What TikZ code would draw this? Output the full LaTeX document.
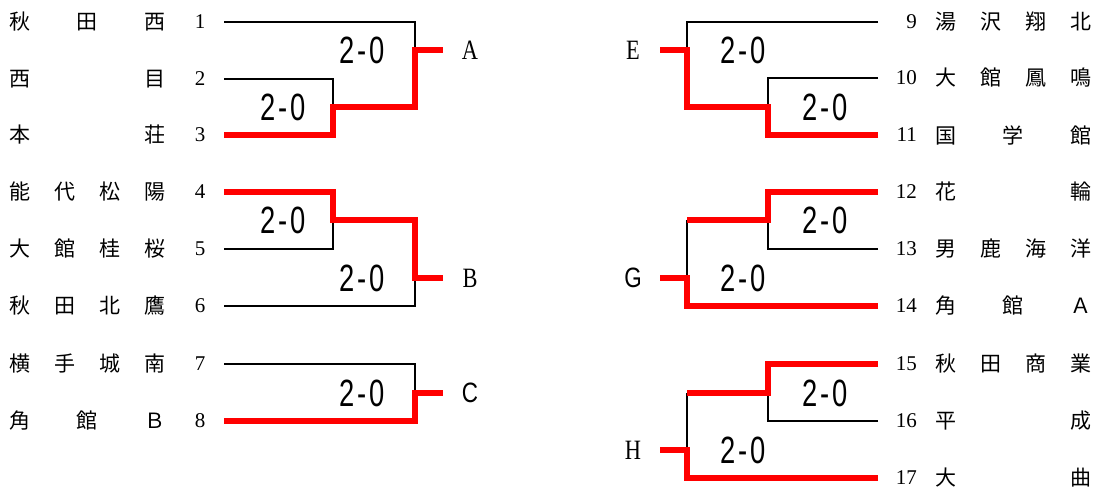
\documentclass[tikz,border=0pt]{standalone}
\usepackage{fontspec}
\setmainfont{Liberation Serif}
\newfontfamily\jpfont{Noto Sans CJK JP}
\newfontfamily\scorefont[FakeStretch=0.72,LetterSpace=8]{Liberation Sans}
\newfontfamily\blockfont[FakeStretch=0.8]{Liberation Serif}
\newfontfamily\blocksans[FakeStretch=0.8]{Liberation Sans}
\newcommand\spreadname[1]{\makebox[156pt]{#1}}
\tikzset{
	team/.style={font=\jpfont\fontsize{21}{21}\selectfont,inner sep=0pt},
	seed/.style={font=\fontsize{21}{21}\selectfont,inner sep=0pt},
	score/.style={font=\scorefont\fontsize{38}{38}\selectfont,inner sep=0pt},
	block/.style={font=\blockfont\fontsize{28}{28}\selectfont,inner sep=0pt},
	blocks/.style={font=\blocksans\fontsize{28}{28}\selectfont,inner sep=0pt},
	lost/.style={line width=2.5pt,black},
	won/.style={line width=5.5pt,red}
}
\begin{document}
\begin{tikzpicture}[x=1pt,y=-1pt]
	\useasboundingbox (0,0) rectangle (1096,490);

	% left teams
	\node[team,anchor=west] (name1) at (9,22) {\spreadname{秋\hfill 田\hfill 西}};
	\node[team,anchor=west] (name2) at (9,79) {\spreadname{西\hfill 目}};
	\node[team,anchor=west] (name3) at (9,135) {\spreadname{本\hfill 荘}};
	\node[team,anchor=west] (name4) at (9,192) {\spreadname{能\hfill 代\hfill 松\hfill 陽}};
	\node[team,anchor=west] (name5) at (9,249) {\spreadname{大\hfill 館\hfill 桂\hfill 桜}};
	\node[team,anchor=west] (name6) at (9,306) {\spreadname{秋\hfill 田\hfill 北\hfill 鷹}};
	\node[team,anchor=west] (name7) at (9,364) {\spreadname{横\hfill 手\hfill 城\hfill 南}};
	\node[team,anchor=west] (name8) at (9,421) {\spreadname{角\hfill 館\hfill Ｂ}};

	\node[seed] (n1) at (200,22) {1};
	\node[seed] (n2) at (200,79) {2};
	\node[seed] (n3) at (200,135) {3};
	\node[seed] (n4) at (200,192) {4};
	\node[seed] (n5) at (200,249) {5};
	\node[seed] (n6) at (200,306) {6};
	\node[seed] (n7) at (200,364) {7};
	\node[seed] (n8) at (200,421) {8};

	% right teams
	\node[team,anchor=west] (name9) at (935,22) {\spreadname{湯\hfill 沢\hfill 翔\hfill 北}};
	\node[team,anchor=west] (name10) at (935,78) {\spreadname{大\hfill 館\hfill 鳳\hfill 鳴}};
	\node[team,anchor=west] (name11) at (935,135) {\spreadname{国\hfill 学\hfill 館}};
	\node[team,anchor=west] (name12) at (935,192) {\spreadname{花\hfill 輪}};
	\node[team,anchor=west] (name13) at (935,249) {\spreadname{男\hfill 鹿\hfill 海\hfill 洋}};
	\node[team,anchor=west] (name14) at (935,306) {\spreadname{角\hfill 館\hfill Ａ}};
	\node[team,anchor=west] (name15) at (935,364) {\spreadname{秋\hfill 田\hfill 商\hfill 業}};
	\node[team,anchor=west] (name16) at (935,421) {\spreadname{平\hfill 成}};
	\node[team,anchor=west] (name17) at (935,478) {\spreadname{大\hfill 曲}};

	\node[seed,anchor=east] (n9) at (917,22) {9};
	\node[seed,anchor=east] (n10) at (917,78) {10};
	\node[seed,anchor=east] (n11) at (917,135) {11};
	\node[seed,anchor=east] (n12) at (917,192) {12};
	\node[seed,anchor=east] (n13) at (917,249) {13};
	\node[seed,anchor=east] (n14) at (917,306) {14};
	\node[seed,anchor=east] (n15) at (917,364) {15};
	\node[seed,anchor=east] (n16) at (917,421) {16};
	\node[seed,anchor=east] (n17) at (917,478) {17};

	% line ends
	\coordinate (s1) at (224,22);
	\coordinate (s2) at (224,79);
	\coordinate (s3) at (224,135);
	\coordinate (s4) at (224,192);
	\coordinate (s5) at (224,249);
	\coordinate (s6) at (224,306);
	\coordinate (s7) at (224,364);
	\coordinate (s8) at (224,421);
	\coordinate (s9) at (878,22);
	\coordinate (s10) at (878,78);
	\coordinate (s11) at (878,135);
	\coordinate (s12) at (878,192);
	\coordinate (s13) at (878,249);
	\coordinate (s14) at (878,306);
	\coordinate (s15) at (878,364);
	\coordinate (s16) at (878,421);
	\coordinate (s17) at (878,478);

	% joints
	\coordinate (j23) at (333,107);
	\coordinate (jA) at (415,50);
	\coordinate (eA) at (443,50);
	\coordinate (j45) at (333,220);
	\coordinate (jB) at (415,278);
	\coordinate (eB) at (443,278);
	\coordinate (jC) at (415,393);
	\coordinate (eC) at (443,393);
	\coordinate (j1011) at (768,107);
	\coordinate (jE) at (687,50);
	\coordinate (eE) at (660,50);
	\coordinate (j1213) at (768,220);
	\coordinate (kG) at (687,220);
	\coordinate (jG) at (687,278);
	\coordinate (eG) at (660,278);
	\coordinate (j1516) at (768,393);
	\coordinate (kH) at (687,393);
	\coordinate (jH) at (687,450);
	\coordinate (eH) at (660,450);

	% losers
	\draw[lost] (s1) -| (jA);
	\draw[lost] (s2) -| (j23);
	\draw[lost] (s5) -| (j45);
	\draw[lost] (s6) -| (jB);
	\draw[lost] (s7) -| (jC);
	\draw[lost] (s9) -| (jE);
	\draw[lost] (s10) -| (j1011);
	\draw[lost] (s13) -| (j1213);
	\draw[lost] (kG) -- (jG);
	\draw[lost] (s16) -| (j1516);
	\draw[lost] (kH) -- (jH);

	% winners
	\draw[won] (s3) -| (j23) -| (jA) -- (eA);
	\draw[won] (s4) -| (j45) -| (jB) -- (eB);
	\draw[won] (s8) -| (jC) -- (eC);
	\draw[won] (s11) -| (j1011) -| (jE) -- (eE);
	\draw[won] (s12) -| (j1213) -- (kG);
	\draw[won] (s14) -| (jG) -- (eG);
	\draw[won] (s15) -| (j1516) -- (kH);
	\draw[won] (s17) -| (jH) -- (eH);

	% scores
	\node[score] (r23) at (283,107) {2-0};
	\node[score] (rA) at (362,50) {2-0};
	\node[score] (r45) at (283,220) {2-0};
	\node[score] (rB) at (362,278) {2-0};
	\node[score] (rC) at (362,393) {2-0};
	\node[score] (rE) at (743,50) {2-0};
	\node[score] (r1011) at (825,107) {2-0};
	\node[score] (r1213) at (825,220) {2-0};
	\node[score] (rG) at (743,278) {2-0};
	\node[score] (r1516) at (825,393) {2-0};
	\node[score] (rH) at (743,450) {2-0};

	% blocks
	\node[block] (A) at (470,50) {A};
	\node[block] (B) at (470,278) {B};
	\node[blocks] (C) at (470,393) {C};
	\node[block] (E) at (633,50) {E};
	\node[blocks] (G) at (633,278) {G};
	\node[block] (H) at (633,450) {H};
\end{tikzpicture}
\end{document}
